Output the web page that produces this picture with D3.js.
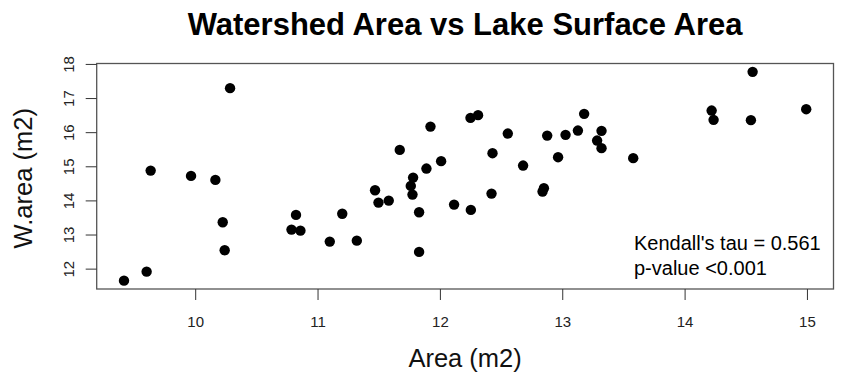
<!DOCTYPE html>
<html><head><meta charset="utf-8">
<script src="https://cdn.jsdelivr.net/npm/d3@7"></script>
<style>body{margin:0;background:#fff}svg{display:block}text{font-family:"Liberation Sans",Arial,sans-serif}</style>
</head><body>
<svg id="c" width="841" height="377"></svg>
<script>
const area = [9.418,9.603,9.636,9.966,10.165,10.225,10.241,10.285,10.787,10.824,10.860,11.100,11.202,11.321,11.470,11.498,11.582,11.672,11.781,11.762,11.776,11.830,11.830,11.890,11.923,12.010,12.116,12.253,12.250,12.312,12.422,12.430,12.555,12.680,12.839,12.850,12.877,12.966,13.027,13.128,13.179,13.321,13.285,13.321,13.580,14.221,14.237,14.542,14.556,14.994];
const warea = [11.648,11.912,14.874,14.718,14.601,13.361,12.540,17.290,13.144,13.575,13.114,12.792,13.610,12.821,14.299,13.935,13.994,15.481,14.669,14.425,14.170,13.654,12.490,14.933,16.164,15.150,13.877,13.721,16.419,16.499,14.199,15.384,15.959,15.021,14.258,14.358,15.900,15.267,15.921,16.047,16.537,16.038,15.754,15.531,15.238,16.633,16.361,16.352,17.768,16.674];
const xTicks = [10,11,12,13,14,15];
const yTicks = [12,13,14,15,16,17,18];
const title = "Watershed Area vs Lake Surface Area";
const xLabel = "Area (m2)";
const yLabel = "W.area (m2)";
const notes = ["Kendall's tau = 0.561", "p-value <0.001"];

const svg = d3.select("#c");
const L = 96.7, R = 833.5, T = 63.5, B = 289;
const ext = (a) => { const mn = d3.min(a), mx = d3.max(a), d = (mx - mn) * 0.04; return [mn - d, mx + d]; };
const x = d3.scaleLinear().domain(ext(area)).range([L, R]);
const y = d3.scaleLinear().domain(ext(warea)).range([B, T]);

// box
svg.append("rect").attr("x", L).attr("y", T).attr("width", R - L).attr("height", B - T)
  .attr("fill", "none").attr("stroke", "#555").attr("stroke-width", 1.3);

// x axis
const xa = svg.append("g").attr("transform", `translate(0,${B})`)
  .call(d3.axisBottom(x).tickValues(xTicks).tickSize(11).tickPadding(16).tickFormat(d3.format("d")));
xa.select(".domain").remove();
xa.selectAll("line").attr("stroke", "#333");
xa.selectAll(".tick text").attr("font-size", 15).attr("fill", "#222");

// y axis
const ya = svg.append("g").attr("transform", `translate(${L},0)`)
  .call(d3.axisLeft(y).tickValues(yTicks).tickSize(11).tickFormat(d3.format("d")));
ya.select(".domain").remove();
ya.selectAll("line").attr("stroke", "#333");
ya.selectAll(".tick text").attr("font-size", 15).attr("fill", "#222")
  .attr("x", null).attr("text-anchor", "middle")
  .attr("transform", "translate(-28,0) rotate(-90)").attr("y", 0).attr("dy", "0.35em");

// points
svg.append("g").selectAll("circle").data(area).join("circle")
  .attr("cx", d => x(d)).attr("cy", (d, i) => y(warea[i])).attr("r", 5.2).attr("fill", "#000");

// title
svg.append("text").attr("x", (L + R) / 2).attr("y", 35).attr("text-anchor", "middle")
  .attr("font-size", 31).attr("font-weight", "bold").attr("fill", "#000").text(title);
// axis labels
svg.append("text").attr("x", (L + R) / 2).attr("y", 367).attr("text-anchor", "middle")
  .attr("font-size", 25.5).attr("fill", "#111").text(xLabel);
svg.append("text").attr("transform", `translate(32,${(T + B) / 2 + 2}) rotate(-90)`).attr("text-anchor", "middle")
  .attr("font-size", 25.5).attr("fill", "#111").text(yLabel);
// annotation
svg.append("g").selectAll("text").data(notes).join("text")
  .attr("x", 634).attr("y", (d, i) => 249.5 + i * 25.7).attr("font-size", 20).attr("fill", "#000").text(d => d);
</script>
</body></html>
